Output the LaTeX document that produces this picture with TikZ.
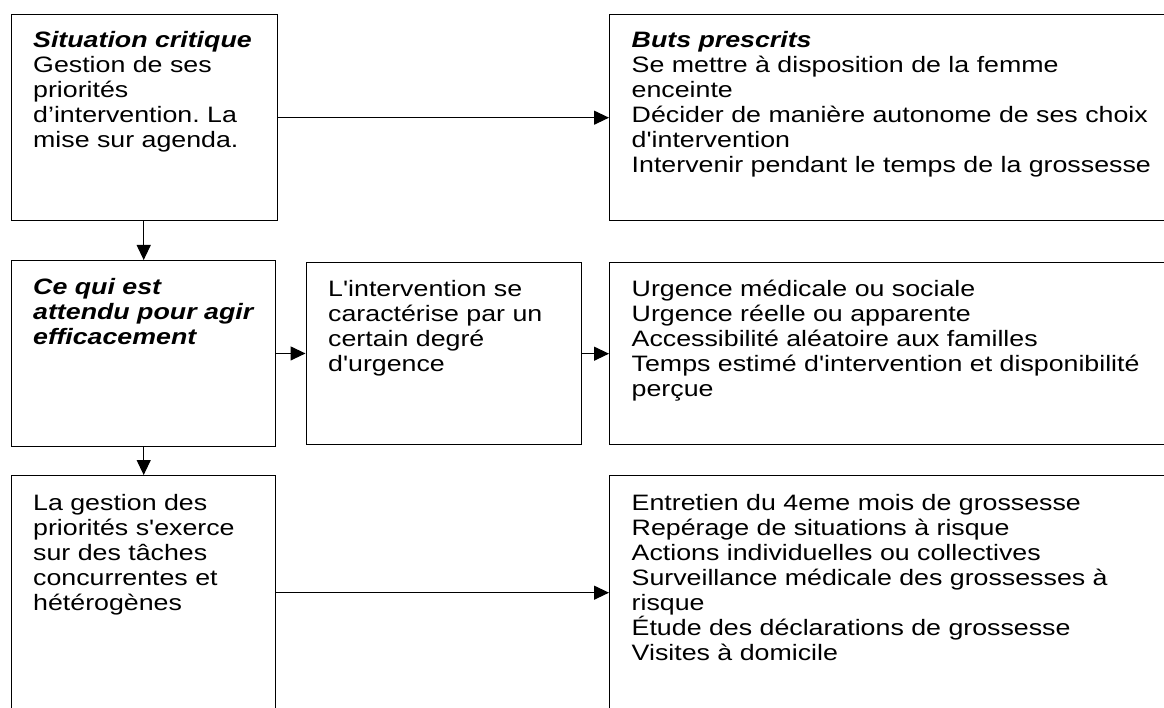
\documentclass[tikz,border=0pt]{standalone}
\usepackage{fontspec}
\setmainfont{Liberation Sans}[FakeStretch=1.2,Ligatures=TeXOff]
\usetikzlibrary{arrows.meta}
\frenchspacing
\begin{document}
\begin{tikzpicture}[x=1pt,y=-1pt,
  box/.style={draw=black, line width=1.4pt, rectangle, inner sep=0pt, anchor=north west},
  txt/.style={anchor=north west, inner sep=0pt, align=left, font=\fontsize{22.3}{25}\selectfont},
  conn/.style={line width=1.2pt, -{Triangle[length=15pt,width=14pt]}}]
\clip (0,0) rectangle (1164,708);
\fill[white] (0,0) rectangle (1164,708);
% boxes
\node[box, minimum width=265.5pt, minimum height=206pt] (b1) at (11,14) {};
\node[box, minimum width=570pt, minimum height=206pt] (b2) at (609,14) {};
\node[box, minimum width=264pt, minimum height=185.5pt] (b3) at (11,260) {};
\node[box, minimum width=275pt, minimum height=182pt] (b4) at (305.5,262) {};
\node[box, minimum width=570pt, minimum height=182pt] (b5) at (609,262) {};
\node[box, minimum width=264pt, minimum height=234pt] (b6) at (11,475) {};
\node[box, minimum width=570pt, minimum height=234pt] (b7) at (609,475) {};
% texts
\node[txt] (t1) at (33,29.5) {\strut\textbf{\textit{Situation critique}}\\Gestion de ses\\priorités\\d’intervention. La\\mise sur agenda.};
\node[txt] (t2) at (631.5,29.5) {\strut\textbf{\textit{Buts prescrits}}\\Se mettre à disposition de la femme\\enceinte\\Décider de manière autonome de ses choix\\d'intervention\\Intervenir pendant le temps de la grossesse};
\node[txt] (t3) at (33,276.5) {\strut\textbf{\textit{Ce qui est}}\\\textbf{\textit{attendu pour agir}}\\\textbf{\textit{efficacement}}};
\node[txt] (t4) at (328,278.5) {\strut L'intervention se\\caractérise par un\\certain degré\\d'urgence};
\node[txt] (t5) at (631.5,278.5) {\strut Urgence médicale ou sociale\\Urgence réelle ou apparente\\Accessibilité aléatoire aux familles\\Temps estimé d'intervention et disponibilité\\perçue};
\node[txt] (t6) at (33,492.5) {\strut La gestion des\\priorités s'exerce\\sur des tâches\\concurrentes et\\hétérogènes};
\node[txt] (t7) at (631.5,492.5) {\strut Entretien du 4eme mois de grossesse\\Repérage de situations à risque\\Actions individuelles ou collectives\\Surveillance médicale des grossesses à\\risque\\Étude des déclarations de grossesse\\Visites à domicile};
% connectors
\draw[conn] (b1.east) -- (b1.east -| b2.west);
\draw[conn] ([xshift=-0.75pt]b1.south) -- ([xshift=-0.75pt]b1.south |- b3.north);
\draw[conn] (b3.east) -- (b3.east -| b4.west);
\draw[conn] (b4.east) -- (b4.east -| b5.west);
\draw[conn] (b3.south) -- (b3.south |- b6.north);
\draw[conn] (b6.east) -- (b6.east -| b7.west);
\end{tikzpicture}
\end{document}
